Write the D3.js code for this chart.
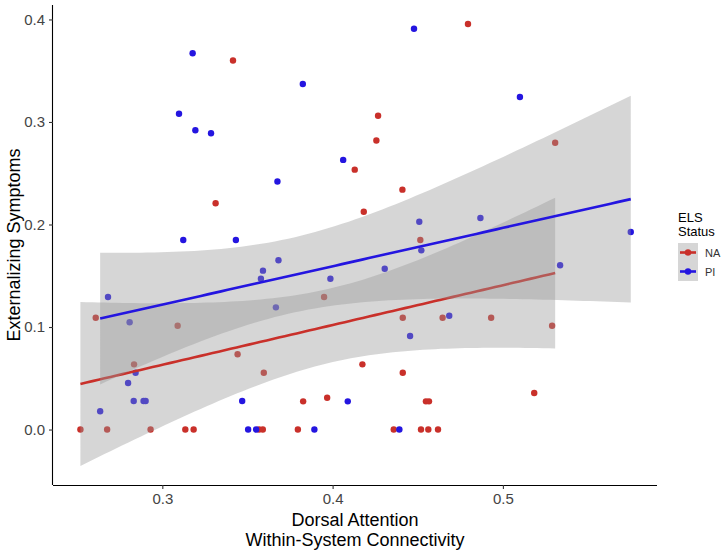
<!DOCTYPE html>
<html>
<head>
<meta charset="utf-8">
<script src="https://cdn.jsdelivr.net/npm/d3@7"></script>
<style>
  html, body { margin: 0; padding: 0; background: #fff; }
  svg { display: block; font-family: "Liberation Sans", Arial, Helvetica, sans-serif; }
</style>
</head>
<body>
<svg id="chart" width="722" height="551"></svg>
<script>
// ---- data ----
const xTicks = [0.3, 0.4, 0.5];
const yTicks = [0.0, 0.1, 0.2, 0.3, 0.4];
const groups = ["NA", "PI"];

const naX = [0.3415, 0.4267, 0.4257, 0.4130, 0.4410, 0.4795, 0.5307, 0.3313, 0.2609, 0.3090,
             0.3442, 0.2834, 0.2519, 0.2676, 0.2931, 0.3135, 0.3184, 0.3568, 0.3590, 0.4183,
             0.4515, 0.3950, 0.4412, 0.4646, 0.3596, 0.4175, 0.4412, 0.3827, 0.3968, 0.4548,
             0.4566, 0.3796, 0.4359, 0.4519, 0.4562, 0.4619, 0.4931, 0.5289, 0.5184];
const naY = [0.360, 0.306, 0.282, 0.2535, 0.234, 0.3956, 0.2798, 0.2207, 0.1091, 0.1013,
             0.0734, 0.0636, 0.000, 0.000, 0.000, 0.000, 0.000, 0.000, 0.000, 0.2125,
             0.1849, 0.1293, 0.1091, 0.1091, 0.0554, 0.0636, 0.0554, 0.0275, 0.0310, 0.0275,
             0.0275, 0.000, 0.000, 0.000, 0.000, 0.000, 0.1091, 0.1013, 0.0356];

const piX = [0.3178, 0.3098, 0.3194, 0.3286, 0.4478, 0.3825, 0.4062, 0.3676, 0.5100, 0.3123,
             0.3432, 0.3579, 0.2681, 0.2808, 0.2843, 0.2799, 0.2832, 0.2890, 0.2902, 0.3469,
             0.2635, 0.3504, 0.3551, 0.4509, 0.4521, 0.3682, 0.3591, 0.3987, 0.4306, 0.3667,
             0.4685, 0.4455, 0.4089, 0.3893, 0.4392, 0.4868, 0.5751, 0.5336];
const piY = [0.367, 0.308, 0.292, 0.289, 0.391, 0.337, 0.263, 0.242, 0.3244, 0.1849,
             0.1849, 0.1471, 0.1293, 0.1046, 0.0554, 0.0454, 0.0278, 0.0278, 0.0278, 0.0278,
             0.0178, 0.000, 0.000, 0.2027, 0.1748, 0.1651, 0.155, 0.1471, 0.1569, 0.1192,
             0.111, 0.0912, 0.0275, 0.000, 0.000, 0.2063, 0.1927, 0.1602];

// ---- styles ----
const colors = { NA: "#c9302a", PI: "#2415e0" };
const plot = { left: 53, right: 657, top: 5, bottom: 485 };

const svg = d3.select("#chart");

const x = d3.scaleLinear().domain([0.2358, 0.5905]).range([plot.left, plot.right]);
const y = d3.scaleLinear().domain([-0.0541, 0.4141]).range([plot.bottom, plot.top]);

const series = [
  { key: "NA", xs: naX, ys: naY },
  { key: "PI", xs: piX, ys: piY }
];

// ---- points ----
const gPts = svg.append("g");
series.forEach(s => {
  gPts.selectAll(null)
    .data(s.xs.map((v, i) => [v, s.ys[i]]))
    .join("circle")
    .attr("cx", d => x(d[0]))
    .attr("cy", d => y(d[1]))
    .attr("r", 3.2)
    .attr("fill", colors[s.key]);
});

// ---- linear fit with 95% confidence band (like geom_smooth(method = "lm")) ----
function lmFit(xs, ys) {
  const n = xs.length;
  const mx = d3.mean(xs), my = d3.mean(ys);
  let sxx = 0, sxy = 0;
  for (let i = 0; i < n; i++) { sxx += (xs[i] - mx) ** 2; sxy += (xs[i] - mx) * (ys[i] - my); }
  const b = sxy / sxx, a = my - b * mx;
  let sse = 0;
  for (let i = 0; i < n; i++) sse += (ys[i] - a - b * xs[i]) ** 2;
  const s = Math.sqrt(sse / (n - 2));
  const tq = 2.03; // t quantile, 0.975, df ~ 36
  const [lo, hi] = d3.extent(xs);
  const grid = d3.range(80).map(i => lo + (hi - lo) * i / 79);
  return grid.map(g => {
    const f = a + b * g;
    const se = s * Math.sqrt(1 / n + (g - mx) ** 2 / sxx);
    return { x: g, y: f, lo: f - tq * se, hi: f + tq * se };
  });
}

const area = d3.area().x(d => x(d.x)).y0(d => y(d.lo)).y1(d => y(d.hi));
const line = d3.line().x(d => x(d.x)).y(d => y(d.y));

const gSmooth = svg.append("g");
series.forEach(s => {
  const fit = lmFit(s.xs, s.ys);
  gSmooth.append("path").attr("d", area(fit))
    .attr("fill", "#999999").attr("fill-opacity", 0.4);
  gSmooth.append("path").attr("d", line(fit))
    .attr("fill", "none").attr("stroke", colors[s.key]).attr("stroke-width", 2.6);
});

// ---- axes ----
const gx = svg.append("g").attr("transform", `translate(0,${plot.bottom})`)
  .call(d3.axisBottom(x).tickValues(xTicks).tickFormat(d3.format(".1f")).tickSize(4).tickPadding(4).tickSizeOuter(0));
const gy = svg.append("g").attr("transform", `translate(${plot.left},0)`)
  .call(d3.axisLeft(y).tickValues(yTicks).tickFormat(d3.format(".1f")).tickSize(4).tickPadding(4).tickSizeOuter(0));

[gx, gy].forEach(g => {
  g.select(".domain").attr("stroke", "#000").attr("stroke-width", 1.1);
  g.selectAll(".tick line").attr("stroke", "#333").attr("stroke-width", 1.1);
  g.selectAll(".tick text").attr("fill", "#444").attr("font-size", 15)
    .attr("font-family", "Liberation Sans, Arial, sans-serif");
});
gx.select(".domain").attr("d", `M${plot.left},0.5H${plot.right}`);
gy.select(".domain").attr("d", `M-0.5,${plot.top}V${plot.bottom}`);

// ---- axis titles ----
svg.append("text").attr("x", (plot.left + plot.right) / 2).attr("y", 526)
  .attr("text-anchor", "middle").attr("font-size", 18).attr("fill", "#000")
  .text("Dorsal Attention");
svg.append("text").attr("x", (plot.left + plot.right) / 2).attr("y", 546)
  .attr("text-anchor", "middle").attr("font-size", 18).attr("fill", "#000")
  .text("Within-System Connectivity");
svg.append("text")
  .attr("transform", `translate(20,${(plot.top + plot.bottom) / 2}) rotate(-90)`)
  .attr("text-anchor", "middle").attr("font-size", 18).attr("fill", "#000")
  .text("Externalizing Symptoms");

// ---- legend ----
const lg = svg.append("g").attr("transform", "translate(678,0)");
lg.append("text").attr("x", 0).attr("y", 222).attr("font-size", 13).attr("fill", "#000").text("ELS");
lg.append("text").attr("x", 0).attr("y", 236).attr("font-size", 13).attr("fill", "#000").text("Status");
const keyH = 19, keyTop = 243;
groups.forEach((k, i) => {
  const ky = keyTop + i * keyH;
  lg.append("rect").attr("x", 0).attr("y", ky).attr("width", 20).attr("height", keyH)
    .attr("fill", "#999999").attr("fill-opacity", 0.4);
  lg.append("line").attr("x1", 2).attr("x2", 18).attr("y1", ky + keyH / 2).attr("y2", ky + keyH / 2)
    .attr("stroke", colors[k]).attr("stroke-width", 2.6);
  lg.append("circle").attr("cx", 10).attr("cy", ky + keyH / 2).attr("r", 3.2).attr("fill", colors[k]);
  lg.append("text").attr("x", 27).attr("y", ky + keyH / 2 + 4).attr("font-size", 11)
    .attr("fill", "#333").text(k);
});
</script>
</body>
</html>
